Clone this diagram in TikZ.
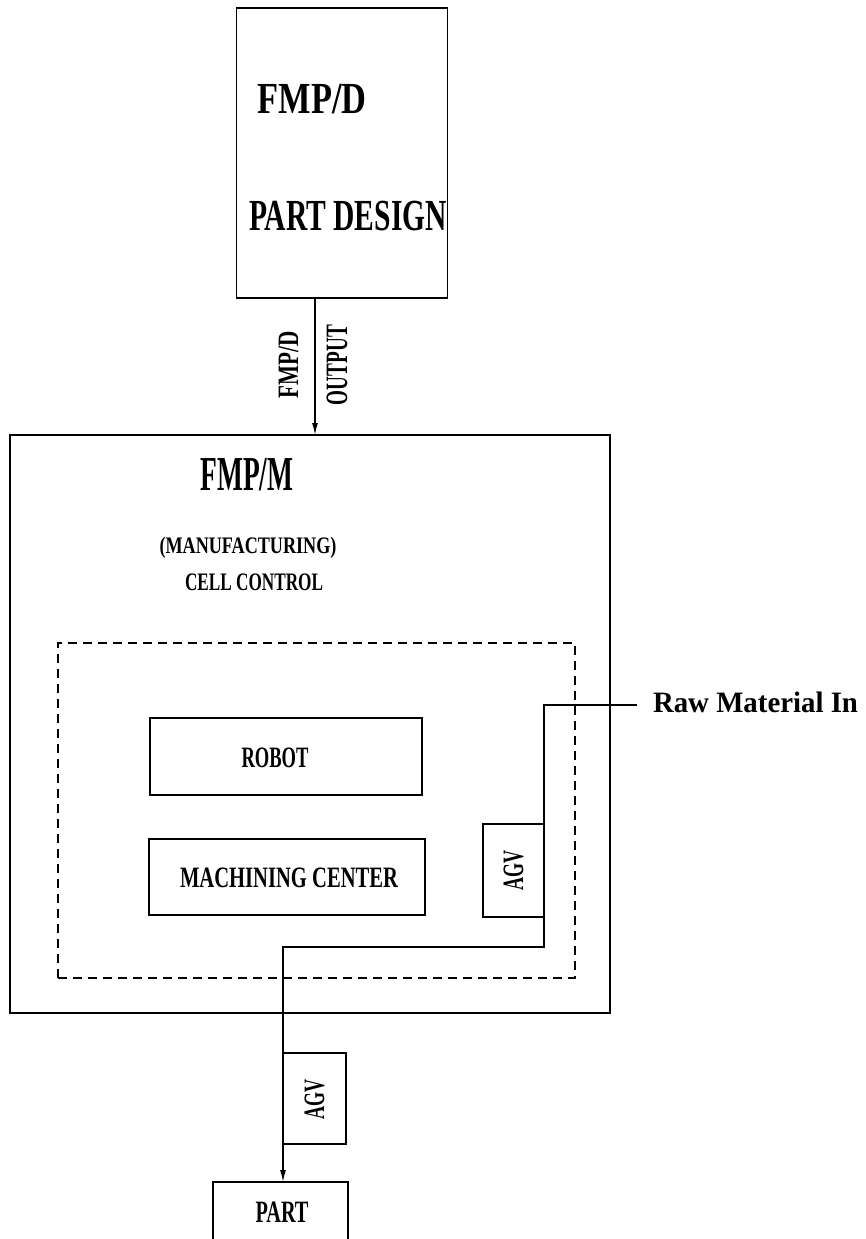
\documentclass[tikz,border=0pt]{standalone}
\usepackage{fontspec}
\setmainfont{Liberation Serif}
\usetikzlibrary{arrows.meta}
\newlength\tlen
\newcommand\fitT[3]{{\bfseries\edef\fsz{\fpeval{#2/0.676}}\fontsize{\fsz}{\fsz}\selectfont\settowidth\tlen{#3}\scalebox{\fpeval{#1/\tlen}}[1]{#3}}}
\begin{document}
\begin{tikzpicture}[x=1pt,y=-1pt,line width=1.4pt,
  box/.style={draw,line width=1.4pt,inner sep=0pt,outer sep=0pt},
  dbox/.style={draw,line width=1.3pt,dash pattern=on 9pt off 6pt,inner sep=0pt,outer sep=0pt},
  lbl/.style={inner sep=0pt,outer sep=0pt,anchor=base},
  arr/.style={-{Latex[length=12pt,width=6pt]}}]
\useasboundingbox (0,0) rectangle (865,1239);
\clip (0,0) rectangle (865,1239);
% boxes
\node[box,minimum width=211pt,minimum height=290pt] (design) at (342,153) {};
\node[box,minimum width=600pt,minimum height=578pt] (cell) at (310,724) {};
\node[dbox,minimum width=517pt,minimum height=335pt] (inner) at (316.5,810.5) {};
\node[box,minimum width=272pt,minimum height=77pt] (robot) at (286,756.5) {};
\node[box,minimum width=276pt,minimum height=76pt] (mc) at (287,877) {};
\node[box,minimum width=61pt,minimum height=93pt] (agv1) at (513.5,870.5) {};
\node[box,minimum width=63pt,minimum height=91pt] (agv2) at (314.5,1098.5) {};
\node[box,minimum width=135pt,minimum height=70pt] (part) at (280.5,1217) {};
% texts
\node[lbl] (t1) at (312,113) {\fitT{109}{30}{FMP/D}};
\node[lbl] (t2) at (348,230) {\fitT{198}{30}{PART DESIGN}};
\node[lbl,rotate=90] (t3) at (298,365) {\fitT{67}{20}{FMP/D}};
\node[lbl,rotate=90] (t4) at (347,365) {\fitT{80}{21}{OUTPUT}};
\node[lbl] (t5) at (247,490) {\fitT{93}{33}{FMP/M}};
\node[lbl] (t6) at (248,553) {\fitT{177}{16}{(MANUFACTURING)}};
\node[lbl] (t7) at (254,590) {\fitT{138}{17}{CELL CONTROL}};
\node[lbl] (t8) at (275,767) {\fitT{67}{20}{ROBOT}};
\node[lbl] (t9) at (289,887) {\fitT{218}{20}{MACHINING CENTER}};
\node[lbl,rotate=90] (t10) at (523,870) {\fitT{40}{20}{AGV}};
\node[lbl,rotate=90] (t11) at (324,1099) {\fitT{40}{20}{AGV}};
\node[lbl] (t12) at (755.5,712) {\fitT{205}{20}{Raw Material In}};
\node[lbl] (t13) at (282,1222) {\fitT{53}{21}{PART}};
% connectors
\coordinate (ax) at (315,0);
\draw[arr] (design.south -| ax) -- (cell.north -| ax);
\coordinate (raw) at (637,705);
\draw (raw) -| (agv1.north east);
\coordinate (bend) at (283,947);
\draw (agv1.south east) |- (bend) -- (agv2.north west);
\draw[arr] (agv2.south west) -- (part.north -| agv2.south west);
\end{tikzpicture}
\end{document}
